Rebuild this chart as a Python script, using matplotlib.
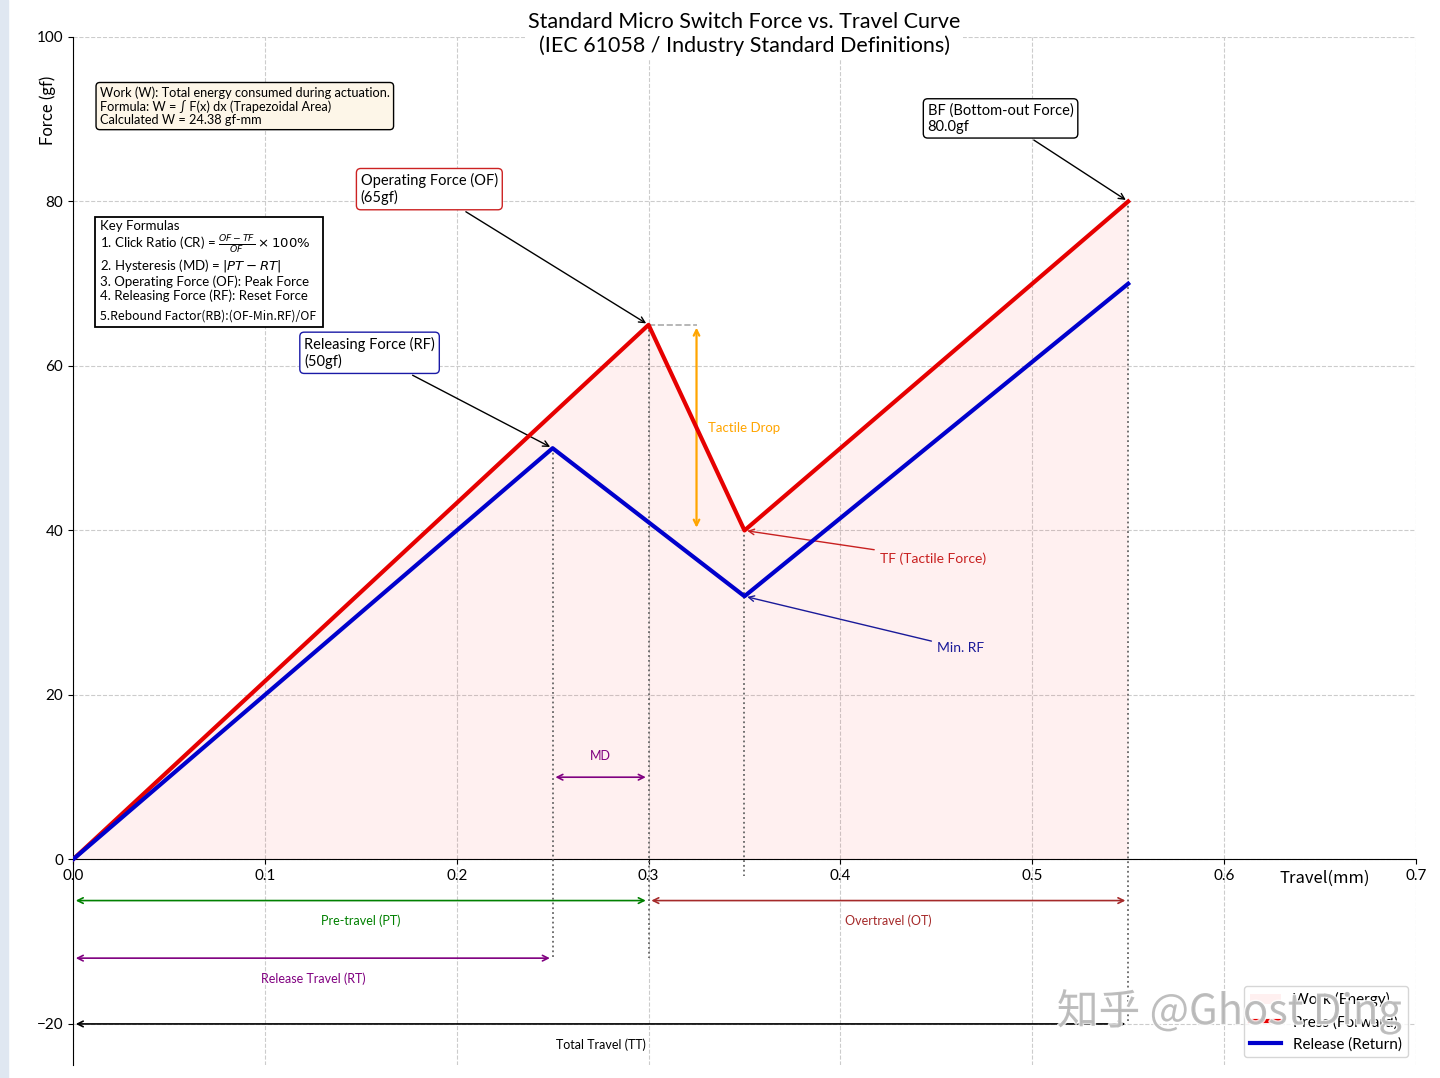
import matplotlib
matplotlib.use("Agg")
import matplotlib.pyplot as plt
from matplotlib.lines import Line2D
from matplotlib.patches import Patch, Rectangle
import matplotlib.patheffects as pe

plt.rcParams['font.family'] = ['Lato', 'DejaVu Sans']

# Datos de la curva (recorrido en mm, fuerza en gf)
travel_press = [0.0, 0.30, 0.35, 0.55]
force_press = [0, 65, 40, 80]
travel_release = [0.0, 0.25, 0.35, 0.55]
force_release = [0, 50, 32, 70]

# Puntos clave
PT, RT, TF_X, TT = 0.30, 0.25, 0.35, 0.55
OF, RF, TF, MIN_RF, BF = 65, 50, 40, 32, 80.0
work = 24.38

x_ticks = [0.0, 0.1, 0.2, 0.3, 0.4, 0.5, 0.6, 0.7]
y_ticks = [-20, 0, 20, 40, 60, 80, 100]

RED = '#e60000'
BLUE = '#0000cc'
CJK = ['Noto Sans CJK SC', 'DejaVu Sans']

fig = plt.figure(figsize=(14.4, 10.78), dpi=100)
ax = fig.add_axes([0.0507, 0.012, 0.9326, 0.9537])
fig.patches.append(Rectangle((0, 0), 0.0055, 1, transform=fig.transFigure,
                             color='#dfe7f1', zorder=0))

ax.set_xlim(0, 0.7)
ax.set_ylim(-25, 100)
ax.set_xticks(x_ticks)
ax.set_yticks(y_ticks)
ax.tick_params(labelsize=11)
ax.spines['left'].set_position(('data', 0))
ax.spines['bottom'].set_position(('data', 0))
ax.spines['top'].set_visible(False)
ax.spines['right'].set_visible(False)
ax.grid(True, ls='--', color='#cccccc', lw=0.8)
ax.set_axisbelow(True)

# area de trabajo
ax.fill_between(travel_press, force_press, 0, color='red', alpha=0.06, lw=0)
ax.plot(travel_press, force_press, color=RED, lw=3, zorder=4)
ax.plot(travel_release, force_release, color=BLUE, lw=3, zorder=4)

# lineas verticales punteadas
dot = dict(color='#666666', ls=':', lw=1.3, zorder=3)
ax.plot([RT, RT], [RF, -12], **dot)
ax.plot([PT, PT], [OF, -12], **dot)
ax.plot([TF_X, TF_X], [TF, -2], **dot)
ax.plot([TT, TT], [BF, -20], **dot)

# caida tactil
ax.plot([PT, 0.325], [OF, OF], color='#aaaaaa', ls='--', lw=1.2)
ax.annotate('', xy=(0.325, TF), xytext=(0.325, OF),
            arrowprops=dict(arrowstyle='<->', color='orange', lw=1.6))
ax.text(0.331, 52.5, 'Tactile Drop', color='orange', fontsize=9.5, va='center')

# MD
ax.annotate('', xy=(RT, 10), xytext=(PT, 10),
            arrowprops=dict(arrowstyle='<->', color='purple', lw=1.2))
ax.text((RT + PT) / 2, 12.6, 'MD', color='purple', fontsize=9, ha='center', va='center')

# cotas bajo el eje
def cota(x0, x1, y, color, label, ty):
    ax.annotate('', xy=(x0, y), xytext=(x1, y),
                arrowprops=dict(arrowstyle='<->', color=color, lw=1.2))
    ax.text((x0 + x1) / 2, ty, label, color=color, fontsize=9, ha='center', va='center')

cota(0, PT, -5, 'green', 'Pre-travel (PT)', -7.5)
cota(PT, TT, -5, 'brown', 'Overtravel (OT)', -7.5)
cota(0, RT, -12, 'purple', 'Release Travel (RT)', -14.5)
cota(0, TT, -20, 'black', 'Total Travel (TT)', -22.5)

# anotaciones
ax.annotate('Operating Force (OF)\n(65gf)', xy=(PT, OF), xytext=(0.15, 81.5),
            fontsize=10.5, va='center',
            bbox=dict(boxstyle='round,pad=0.3', fc='white', ec='#cc2222'),
            arrowprops=dict(arrowstyle='->', color='black', lw=1))
ax.annotate('Releasing Force (RF)\n(50gf)', xy=(RT, RF), xytext=(0.1205, 61.6),
            fontsize=10.5, va='center',
            bbox=dict(boxstyle='round,pad=0.3', fc='white', ec='#1a1aa6'),
            arrowprops=dict(arrowstyle='->', color='black', lw=1))
ax.annotate('BF (Bottom-out Force)\n80.0gf', xy=(TT, BF), xytext=(0.4455, 90.1),
            fontsize=10.5, va='center',
            bbox=dict(boxstyle='round,pad=0.3', fc='white', ec='black'),
            arrowprops=dict(arrowstyle='->', color='black', lw=1))
ax.annotate('TF (Tactile Force)', xy=(TF_X, TF), xytext=(0.4205, 36.6),
            fontsize=10, va='center', color='#c82020',
            arrowprops=dict(arrowstyle='->', color='#c82020', lw=1))
ax.annotate('Min. RF', xy=(TF_X, MIN_RF), xytext=(0.4503, 25.7),
            fontsize=10, va='center', color='#1a1a99',
            arrowprops=dict(arrowstyle='->', color='#1a1a99', lw=1))

# cuadros de texto
ax.text(0.02, 0.952,
        'Work (W): Total energy consumed during actuation.\n'
        'Formula: W = \u222b F(x) dx (Trapezoidal Area)\n'
        f'Calculated W = {work:.2f} gf-mm',
        transform=ax.transAxes, fontsize=9.2, va='top', linespacing=1.1,
        bbox=dict(boxstyle='round,pad=0.3', fc='#fdf6e8', ec='black'))

ax.add_patch(Rectangle((0.0164, 0.7179), 0.1697, 0.107, transform=ax.transAxes,
                       fc='white', ec='black', lw=1.3, zorder=5))
ax.text(0.02, 0.822,
        'Key Formulas\n'
        r'1. Click Ratio (CR) = $\frac{OF - TF}{OF} \times 100\%$' '\n'
        r'2. Hysteresis (MD) = $|PT - RT|$' '\n'
        '3. Operating Force (OF): Peak Force\n'
        '4. Releasing Force (RF): Reset Force',
        transform=ax.transAxes, fontsize=9.5, va='top', linespacing=1.12, zorder=6)
ax.text(0.02, 0.7286, '5.Rebound Factor(RB):(OF-Min.RF)/OF', transform=ax.transAxes,
        fontsize=8.8, va='center', family=CJK, zorder=6)

# titulo y etiquetas
ax.text(0.5, 1.003, 'Standard Micro Switch Force vs. Travel Curve\n'
        '(IEC 61058 / Industry Standard Definitions)',
        transform=ax.transAxes, ha='center', va='center', fontsize=15.5,
        bbox=dict(fc='white', ec='none', pad=2), zorder=6)
ax.set_ylabel('Force (gf)', fontsize=12)
ax.yaxis.set_label_coords(-0.0125, 0.929)
ax.text(0.6526, -2.3, 'Travel(mm)', fontsize=12, ha='center', va='center', family=CJK)

handles = [Patch(facecolor='red', alpha=0.06, label='Work (Energy)'),
           Line2D([], [], color=RED, lw=3, label='Press (Forward)'),
           Line2D([], [], color=BLUE, lw=3, label='Release (Return)')]
ax.legend(handles=handles, loc='lower right', fontsize=11)

# marca de agua
ax.text(0.861, 0.052, '知乎 @Ghost Ding', transform=ax.transAxes, fontsize=30,
        ha='center', va='center', color='#b5b5b5', alpha=0.85,
        family=CJK, zorder=10,
        path_effects=[pe.withStroke(linewidth=2, foreground='white')])

fig.savefig('out.png', dpi=100)
